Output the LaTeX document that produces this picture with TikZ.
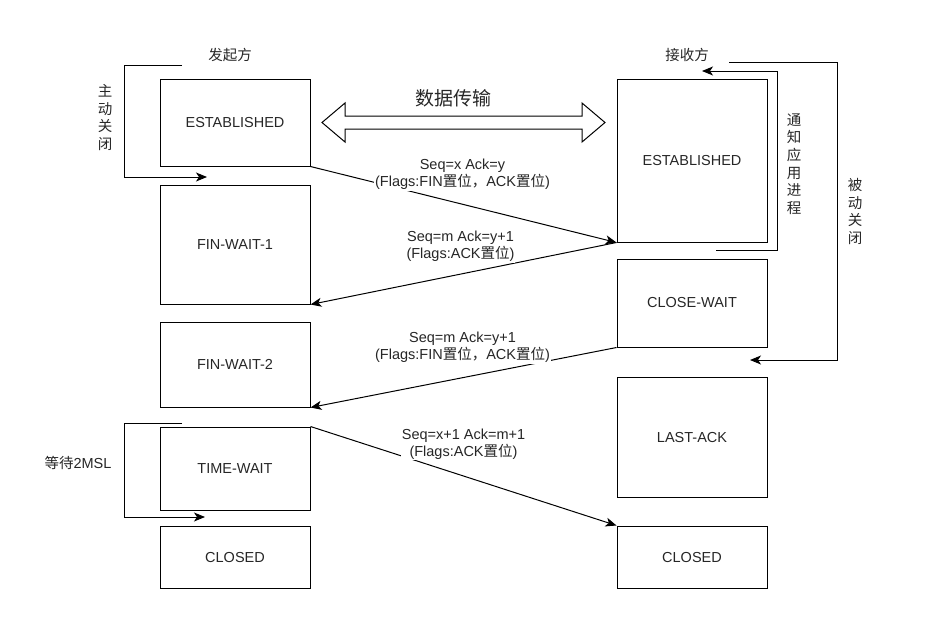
\documentclass[tikz,border=0pt]{standalone}
\usepackage{fontspec}
\setmainfont{Liberation Sans}
\newfontfamily\cjk{Noto Sans CJK SC}
\usetikzlibrary{arrows.meta}

\begin{document}
\begin{tikzpicture}[x=1pt,y=-1pt,line width=1pt,
    >={Stealth[length=11pt,width=9pt,inset=3pt]},
    state/.style={rectangle,draw,minimum width=150pt,inner sep=0pt,text=black!85,
      font=\fontsize{14.5}{17.4}\selectfont},
    lbl/.style={fill=white,align=center,inner sep=1pt,text=black!85,
      font=\fontsize{14.5}{17.4}\selectfont},
    side/.style={align=center,inner sep=0pt,text=black!85,
      font=\cjk\fontsize{14.5}{17.6}\selectfont}]
            \useasboundingbox (0,0) rectangle (942,638);
            % initiator side
            \draw (235,122.5) node[state,minimum height=87pt] (EA) {ESTABLISHED};
            \draw (235,244.5) node[state,minimum height=119pt] (FW1) {FIN-WAIT-1};
            \draw (235,364.5) node[state,minimum height=85pt] (FW2) {FIN-WAIT-2};
            \draw (235,468.5) node[state,minimum height=83pt] (TW) {TIME-WAIT};
            \draw (235,557) node[state,minimum height=62pt] (CA) {CLOSED};
            % receiver side
            \draw (692,160.5) node[state,minimum height=163pt] (EB) {ESTABLISHED};
            \draw (692,303) node[state,minimum height=88pt] (CW) {CLOSE-WAIT};
            \draw (692,437) node[state,minimum height=120pt] (LA) {LAST-ACK};
            \draw (692,557) node[state,minimum height=62pt] (CB) {CLOSED};

            \draw (230,55) node[side] (fq) {发起方};
            \draw (687,55) node[side] (js) {接收方};

            % data transfer
            \draw (322,122.5) -- (345,103) -- (345,116) -- (582,116) -- (582,103)
              -- (605,122.5) -- (582,142) -- (582,129) -- (345,129) -- (345,142) -- cycle;
            \draw (453,98) node[text=black!85,font=\cjk\fontsize{19}{22}\selectfont] (sj) {数据传输};

            % segments
            \draw[->] (EA.south east)--(EB.south west) node[lbl,pos=.5,yshift=30pt,xshift=-1pt]
              {Seq=x Ack=y\\(Flags:FIN{\cjk 置位，}ACK{\cjk 置位})};
            \draw[->] (EB.south west)--(FW1.south east) node[lbl,pos=.5,yshift=27pt,xshift=-3pt]
              {Seq=m Ack=y+1\\(Flags:ACK{\cjk 置位})};
            \draw[->] (CW.south west)--(FW2.south east) node[lbl,pos=.5,yshift=30pt,xshift=-1pt]
              {Seq=m Ack=y+1\\(Flags:FIN{\cjk 置位，}ACK{\cjk 置位})};
            \draw[->] (TW.north east)--(CB.north west) node[lbl,pos=.5,yshift=32pt]
              {Seq=x+1 Ack=m+1\\(Flags:ACK{\cjk 置位})};

            % loops
            \coordinate (zs) at (182,65);  \coordinate (ze) at (207,177);
            \coordinate (ds) at (182,423); \coordinate (de) at (205,517);
            \coordinate (ts) at (716,250); \coordinate (te) at (702,71);
            \coordinate (bs) at (729,62);  \coordinate (be) at (750,360);
            \draw[->] (zs) -- (124,65) -- (124,177) -- (ze);
            \draw[->] (ds) -- (124,423) -- (124,517) -- (de);
            \draw[->] (ts) -- (777,250) -- (777,71) -- (te);
            \draw[->] (bs) -- (837,62) -- (837,360) -- (be);

            \draw (105,117.5) node[side] (zd) {主\\动\\关\\闭};
            \draw (78,463) node[text=black!85,font=\fontsize{14.5}{17.4}\selectfont] (dd) {{\cjk 等待}2MSL};
            \draw (794,164) node[side] (tz) {通\\知\\应\\用\\进\\程};
            \draw (855,211.5) node[side] (bd) {被\\动\\关\\闭};
\end{tikzpicture}
\end{document}
